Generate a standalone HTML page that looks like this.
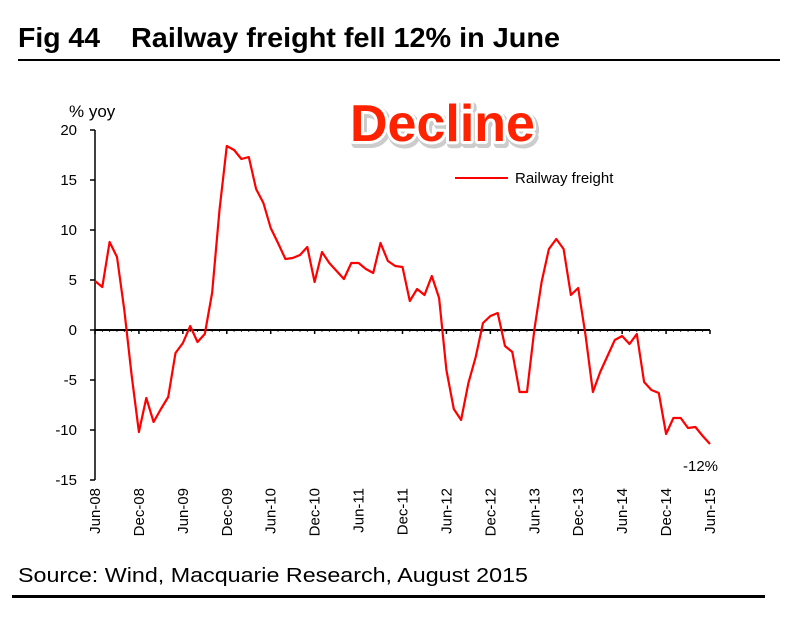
<!DOCTYPE html>
<html><head><meta charset="utf-8"><style>
html,body{margin:0;padding:0;background:#fff;}
svg{display:block;font-family:"Liberation Sans",Arial,sans-serif;}
</style></head><body>
<svg id="chart" width="800" height="618" viewBox="0 0 800 618">
<text x="18" y="47" font-size="28" font-weight="bold" fill="#000" textLength="82" lengthAdjust="spacingAndGlyphs">Fig 44</text>
<text x="131" y="47" font-size="28" font-weight="bold" fill="#000" textLength="429" lengthAdjust="spacingAndGlyphs">Railway freight fell 12% in June</text>
<rect x="18" y="59" width="762" height="2" fill="#000"/>
<text x="69" y="117" font-size="17" fill="#000">% yoy</text>
<text x="350" y="141" font-size="52" font-weight="bold" fill="#bbb" stroke="#ccc" stroke-width="8" stroke-linejoin="round" transform="translate(2,3)">Decline</text>
<text x="350" y="141" font-size="52" font-weight="bold" fill="#ff2200" stroke="#fff" stroke-width="6" stroke-linejoin="round" paint-order="stroke">Decline</text>
<g id="axes"></g>
<line x1="455" y1="178" x2="508" y2="178" stroke="#ff0000" stroke-width="2"/>
<text x="515" y="183" font-size="15" fill="#000">Railway freight</text>
<text x="683" y="471" font-size="15" fill="#000">-12%</text>
<text x="18" y="582" font-size="20" fill="#000" textLength="510" lengthAdjust="spacingAndGlyphs">Source: Wind, Macquarie Research, August 2015</text>
<rect x="12" y="595" width="753" height="3" fill="#000"/>
</svg>
<script>
const values = [4.9,4.3,8.8,7.3,2.0,-4.5,-10.2,-6.8,-9.2,-7.9,-6.7,-2.3,-1.3,0.4,-1.2,-0.4,3.7,12.0,18.4,18.0,17.1,17.3,14.1,12.7,10.2,8.7,7.1,7.2,7.5,8.3,4.8,7.8,6.7,5.9,5.1,6.7,6.7,6.1,5.7,8.7,6.9,6.4,6.3,2.9,4.1,3.5,5.4,3.2,-4.0,-7.9,-9.0,-5.3,-2.7,0.7,1.4,1.7,-1.6,-2.2,-6.2,-6.2,0.0,4.8,8.1,9.1,8.1,3.5,4.2,-0.5,-6.2,-4.2,-2.6,-1.0,-0.6,-1.4,-0.4,-5.2,-6.0,-6.3,-10.4,-8.8,-8.8,-9.8,-9.7,-10.6,-11.4];
const xLabels = ["Jun-08","Dec-08","Jun-09","Dec-09","Jun-10","Dec-10","Jun-11","Dec-11","Jun-12","Dec-12","Jun-13","Dec-13","Jun-14","Dec-14","Jun-15"];
const yTicks = [20,15,10,5,0,-5,-10,-15];
const NS="http://www.w3.org/2000/svg";
const X0=95, X1=710, Y0=330, PER=10;
function xs(i){return X0+(X1-X0)*i/(values.length-1);}
function ys(v){return Y0-v*PER;}
const g=document.getElementById('axes');
function mk(tag,attrs,parent){const e=document.createElementNS(NS,tag);for(const k in attrs)e.setAttribute(k,attrs[k]);(parent||g).appendChild(e);return e;}
const ya=mk('line',{x1:X0,y1:ys(20),x2:X0,y2:ys(-15),stroke:'#000','stroke-width':1.5});


yTicks.forEach(v=>{
  const t=mk('line',{x1:X0-5,y1:ys(v),x2:X0,y2:ys(v),stroke:'#000','stroke-width':1.5});
  
  
  const l=mk('text',{x:X0-18,y:ys(v)+5,'font-size':15,'text-anchor':'end',fill:'#000'});
  l.textContent=String(v);
  
  
});
const xa=mk('line',{x1:X0,y1:Y0,x2:X1,y2:Y0,stroke:'#000','stroke-width':2});


for(let i=0;i<values.length;i++){
  const major=i%6===0;
  const t=mk('line',{x1:xs(i),y1:Y0,x2:xs(i),y2:Y0+(major?4:2),stroke:'#000','stroke-width':major?1.5:0.8});
  
  
}
xLabels.forEach((s,k)=>{
  const x=xs(k*6);
  const l=mk('text',{x:0,y:0,'font-size':15,'text-anchor':'end',fill:'#000',transform:`translate(${x+5},488) rotate(-90)`});
  l.textContent=s;
  
  
});
const p=mk('polyline',{points:values.map((v,i)=>xs(i).toFixed(1)+','+ys(v).toFixed(1)).join(' '),fill:'none',stroke:'#ff0000','stroke-width':2.2,'stroke-linejoin':'round'});


</script>
</body></html>
